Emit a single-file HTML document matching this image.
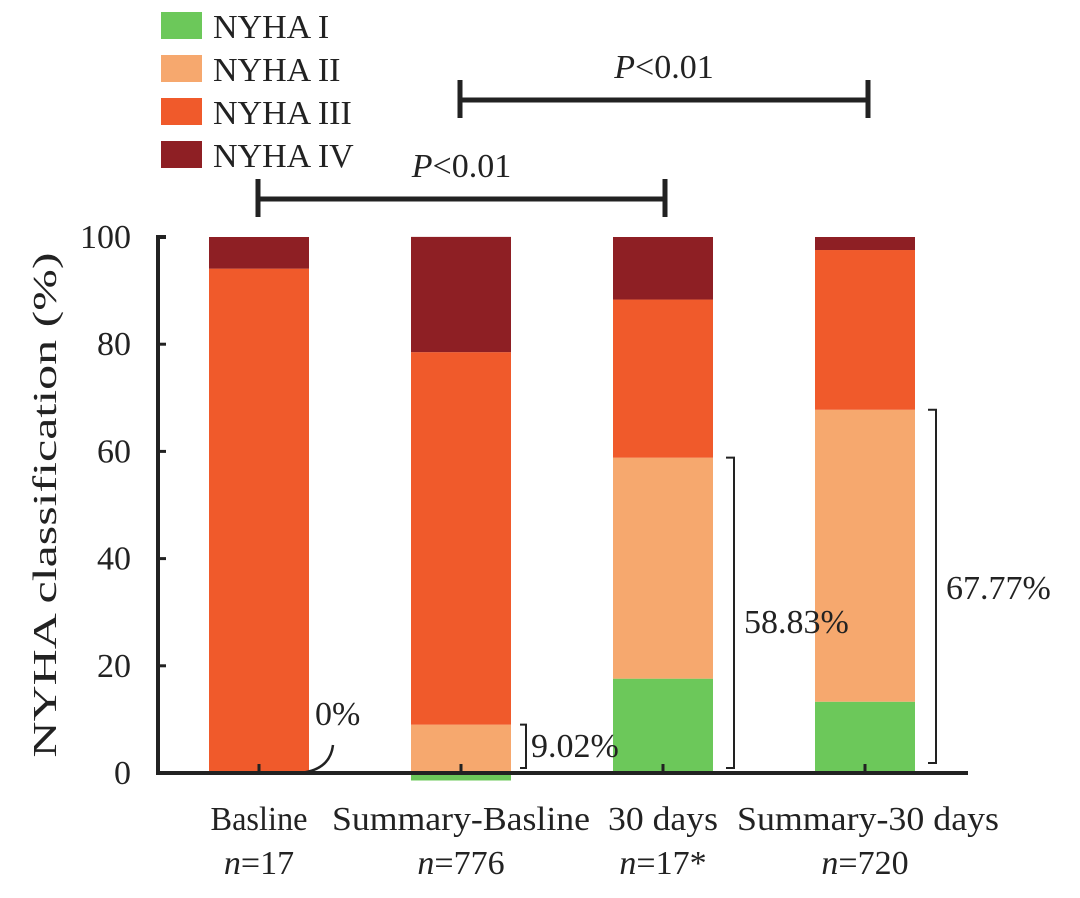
<!DOCTYPE html>
<html><head><meta charset="utf-8"><style>
body{margin:0;background:#fff}
svg text{font-family:"Liberation Serif",serif;fill:#222}
</style></head><body>
<svg id="c" width="1080" height="893">
</svg>
<script>
const categories = ["Basline","Summary-Basline","30 days","Summary-30 days"];
const nLabels = ["17","776","17*","720"];
const nyha1 = [0, -1.4, 17.6, 13.3];
const nyha2 = [0, 9.02, 41.23, 54.47];
const nyha3 = [94.1, 69.5, 29.5, 29.8];
const nyha4 = [5.9, 21.5, 11.67, 2.43];
const yTicks = [0,20,40,60,80,100];
const seriesNames = ["NYHA I","NYHA II","NYHA III","NYHA IV"];
const colors = ["#6cc85a","#f6a86e","#f05a2b","#8e1f24"];

const svg=document.getElementById('c');
const NS="http://www.w3.org/2000/svg";
function mk(t,a,txt){const e=document.createElementNS(NS,t);for(const k in a)e.setAttribute(k,a[k]);if(txt!==undefined)e.textContent=txt;svg.appendChild(e);return e;}
const y0=773,y100=237;
const yS=v=>y0-(y0-y100)*v/100;
const xC=i=>259+i*202;
const bw=100;
const FS=34;

const series=[nyha1,nyha2,nyha3,nyha4];
categories.forEach((c,i)=>{
  let base=0;
  series.forEach((s,k)=>{
    const v=s[i]; if(v===0) return;
    let a,b;
    if(v<0){a=v;b=0;} else {a=base;b=base+v;base=b;}
    const r=mk('rect',{x:xC(i)-bw/2,y:yS(b),width:bw,height:yS(a)-yS(b),fill:colors[k]});
    
    
  });
});

let e=mk('path',{d:`M166 ${y100}H158V${y0}H968`,stroke:'#222','stroke-width':4,fill:'none'});

yTicks.forEach(t=>{
  const y=yS(t);
  let l=mk('line',{x1:158,x2:166,y1:y,y2:y,stroke:'#222','stroke-width':3});
  
  let tx=mk('text',{x:131,y:y+11,'font-size':FS,'text-anchor':'end'},String(t));
  
});
const xLens=[97,258,110,262];
categories.forEach((c,i)=>{
  let l=mk('line',{x1:xC(i),x2:xC(i),y1:y0,y2:y0-9,stroke:'#222','stroke-width':3});
  
  let t=mk('text',{x:xC(i)+(i==3?3:0),y:830,'font-size':FS,'text-anchor':'middle',textLength:xLens[i],lengthAdjust:'spacingAndGlyphs'},c);
  
  t=mk('text',{x:xC(i),y:874,'font-size':FS,'text-anchor':'middle'});
  t.innerHTML='<tspan font-style="italic">n</tspan>='+nLabels[i];
  
});
e=mk('text',{x:0,y:0,'font-size':FS,'text-anchor':'middle',textLength:505,lengthAdjust:'spacingAndGlyphs',transform:'translate(56 505) rotate(-90)'},'NYHA classification (%)');


seriesNames.forEach((n,k)=>{
  const y=12+k*43;
  let r=mk('rect',{x:161,y:y,width:41,height:27,fill:colors[k]});
  
  let t=mk('text',{x:213,y:y+26,'font-size':FS},n);
  
});

function bracket(x1,x2,y){
  let p=mk('path',{d:`M${x1} ${y-20}V${y+18}M${x1} ${y}H${x2}M${x2} ${y-20}V${y+18}`,stroke:'#222','stroke-width':5,fill:'none'});
  
  let t=mk('text',{x:(x1+x2)/2,y:y-22,'font-size':FS,'text-anchor':'middle'});
  t.innerHTML='<tspan font-style="italic">P</tspan>&lt;0.01';
  
}
bracket(258,665,199);
bracket(460,868,100);

e=mk('text',{x:315,y:725,'font-size':FS},'0%');

e=mk('path',{d:'M333 745 Q330 770 300 773',stroke:'#222','stroke-width':2.5,fill:'none'});

e=mk('path',{d:`M520 ${yS(9.02)}H526V${y0-5}H520`,stroke:'#222','stroke-width':2,fill:'none'});

e=mk('text',{x:531,y:757,'font-size':FS},'9.02%');

e=mk('path',{d:`M726 ${yS(58.83)}H734V${y0-5}H726`,stroke:'#222','stroke-width':2,fill:'none'});

e=mk('text',{x:744,y:633,'font-size':FS},'58.83%');

e=mk('path',{d:`M928 ${yS(67.77)}H936V${y0-10}H928`,stroke:'#222','stroke-width':2,fill:'none'});

e=mk('text',{x:946,y:599,'font-size':FS},'67.77%');

</script>
</body></html>
